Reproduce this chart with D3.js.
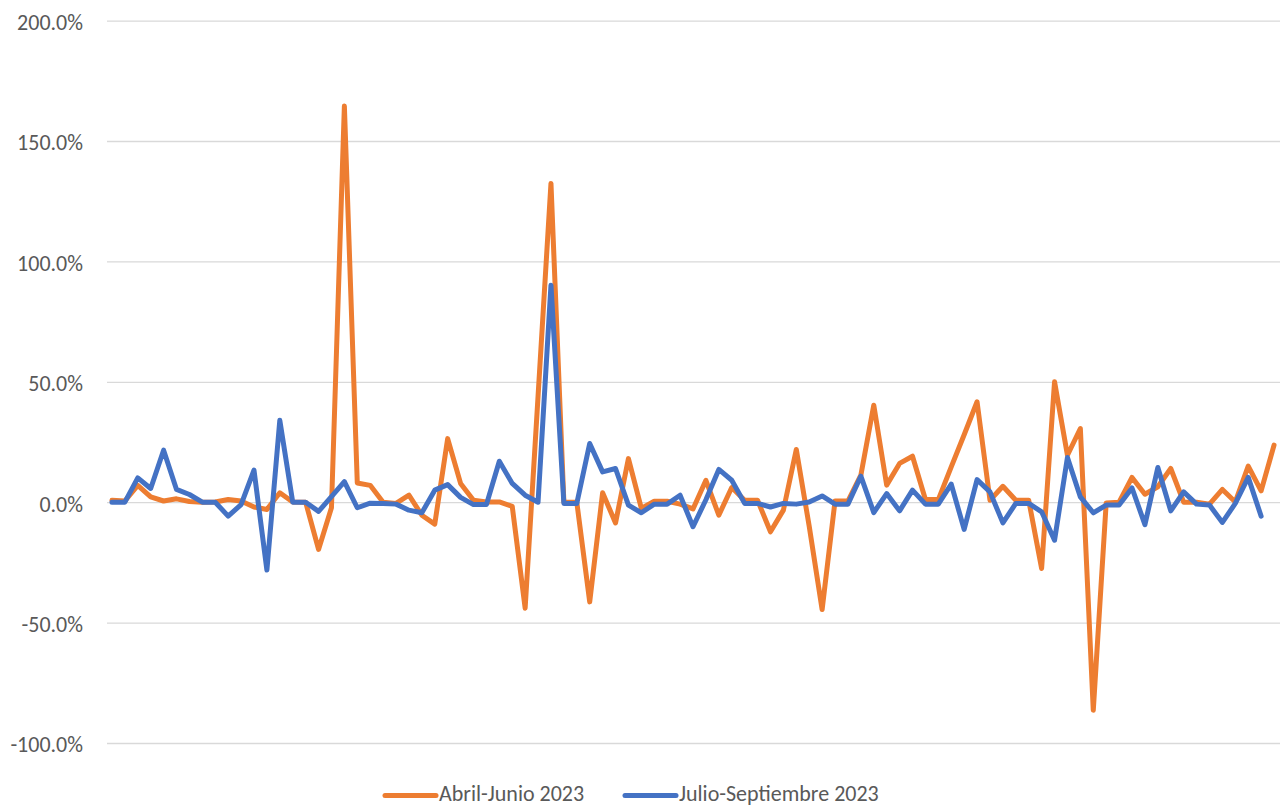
<!DOCTYPE html>
<html>
<head>
<meta charset="utf-8">
<script src="https://cdn.jsdelivr.net/npm/d3@7"></script>
<style>
  body { margin: 0; background: #fff; }
  svg { display: block; font-family: Calibri, Carlito, "Liberation Sans", Arial, sans-serif; }
</style>
</head>
<body>
<svg id="chart"></svg>
<script>
// Percent change values
const abrilJunio = [
  0.8, 0.5, 7, 2.2, 0.5, 1.4, 0.3, 0, 0.1, 1.1,
  0.5, -2, -3, 3.9, 0.1, 0, -19.6, -2.3, 164.5, 8,
  7, 0, -0.5, 2.9, -5.4, -9.1, 26.4, 7.8, 0.8, 0.1,
  0.1, -1.7, -44, 44, 132.4, 0, 0, -41.4, 3.9, -8.6,
  18.1, -2.6, 0.4, 0.4, -0.8, -2.8, 9.1, -5.4, 6.1, 0.8,
  0.8, -12.3, -3.3, 21.9, -10, -44.6, 0.5, 0.5, 11.2, 40.3,
  7.1, 16.1, 19.1, 1.1, 1.1, 14.7, 28, 41.7, 0.8, 6.6,
  0.8, 0.8, -27.5, 50, 19.5, 30.6, -86.4, -0.3, 0, 10.3,
  3.3, 6.4, 14, 0, 0, -0.8, 5.3, 0.1, 15, 4.7,
  23.7
];
const julioSeptiembre = [
  0, 0, 10.1, 5.7, 21.6, 5.3, 3.2, 0, 0, -5.8,
  -1, 13.3, -28.2, 34, 0, 0, -3.8, 2.3, 8.5, -2.3,
  -0.4, -0.5, -0.8, -3.3, -4.4, 5, 7.3, 2, -1, -1,
  17, 7.8, 2.9, 0, 90.1, -0.5, -0.5, 24.4, 12.6, 14,
  -1.2, -4.4, -0.8, -0.8, 2.9, -10.2, 1, 13.6, 9.1, -0.5,
  -0.5, -2, -0.5, -0.8, 0.1, 2.6, -0.8, -0.8, 10.8, -4.3,
  3.6, -3.6, 5, -0.8, -0.8, 7.5, -11.3, 9.4, 4.3, -8.6,
  -0.5, -0.5, -4, -15.8, 18.6, 2.2, -4.4, -1.2, -1.2, 5.9,
  -9.3, 14.4, -3.6, 4.3, -0.8, -1.2, -8.4, -0.5, 10.3, -5.8
];
const yTicks = [-100, -50, 0, 50, 100, 150, 200];
const seriesNames = ["Abril-Junio 2023", "Julio-Septiembre 2023"];
const seriesColors = ["#ED7D31", "#4472C4"];

// one category per observation (the x axis has no labels)
const categories = abrilJunio.map((d, i) => i + 1);

const width = 1283, height = 806;
const svg = d3.select("#chart")
  .attr("width", width)
  .attr("height", height);

const x = d3.scalePoint()
  .domain(categories)
  .range([105.5, 1280.5])
  .padding(0.5);

const y = d3.scaleLinear()
  .domain([-100, 200])
  .range([743, 20.6]);

// Horizontal gridlines + percent labels (plain hyphen, like Excel)
const yAxis = svg.append("g")
  .attr("transform", "translate(107,0)")
  .call(d3.axisLeft(y)
    .tickValues(yTicks)
    .tickSize(-(1280 - 107))
    .tickPadding(24)
    .tickFormat(d => d3.format(".1f")(d).replace("\u2212", "-") + "%"));

yAxis.select(".domain").remove();
yAxis.selectAll("line")
  .attr("stroke", "#D9D9D9")
  .attr("stroke-width", 1.3);
yAxis.selectAll("text")
  .attr("fill", "#595959")
  .attr("font-size", "22px")
  .attr("font-family", "Calibri, Carlito, 'Liberation Sans', Arial, sans-serif")
  .attr("dy", "0.4em");

// Lines
const line = d3.line()
  .x((d, i) => x(categories[i]))
  .y(d => y(d));

[abrilJunio, julioSeptiembre].forEach(function(values, k) {
  svg.append("path")
    .datum(values)
    .attr("fill", "none")
    .attr("stroke", seriesColors[k])
    .attr("stroke-width", 5)
    .attr("stroke-linejoin", "round")
    .attr("stroke-linecap", "round")
    .attr("d", line);
});

// Legend at the bottom
const legendX = [385, 625];
const legend = svg.append("g");
seriesNames.forEach(function(name, k) {
  legend.append("line")
    .attr("x1", legendX[k])
    .attr("x2", legendX[k] + 51)
    .attr("y1", 795.5)
    .attr("y2", 795.5)
    .attr("stroke", seriesColors[k])
    .attr("stroke-width", 5)
    .attr("stroke-linecap", "round");
  legend.append("text")
    .attr("x", legendX[k] + 54)
    .attr("y", 801)
    .attr("fill", "#595959")
    .attr("font-size", "22px")
    .text(name);
});
</script>
</body>
</html>
